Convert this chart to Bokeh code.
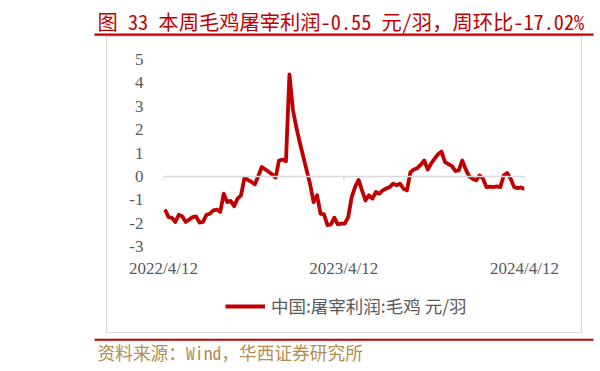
import pandas as pd
from bokeh.plotting import figure
from bokeh.layouts import column, row
from bokeh.models import (Range1d, FixedTicker, Span, Legend, LegendItem, Label,
                          BoxAnnotation, ColumnDataSource, Spacer)
from bokeh.embed import file_html
from bokeh.resources import INLINE

# ---------------- data ----------------
title_text = "图 33 本周毛鸡屠宰利润-0.55 元/羽，周环比-17.02%"
source_text = "资料来源：Wind，华西证券研究所"
series_name = "中国:屠宰利润:毛鸡 元/羽"
last_date = "2024-04-12"
n_weeks = 105
profit = [
    -1.42, -1.74, -1.77, -1.95, -1.64, -1.71, -1.95, -1.85, -1.74, -1.71,
    -1.98, -1.95, -1.64, -1.60, -1.45, -1.42, -1.52, -0.74, -1.10, -1.05,
    -1.28, -0.95, -0.81, -0.06, -0.15, -0.24, -0.34, 0.02, 0.40, 0.30,
    0.20, 0.08, -0.05, 0.68, 0.72, 0.65, 4.36, 2.85, 2.10, 1.45,
    0.85, 0.25, -0.35, -1.10, -0.81, -1.60, -1.62, -2.09, -2.05, -1.77,
    -2.05, -2.02, -2.02, -1.74, -0.90, -0.45, -0.15, -0.60, -1.03, -0.81,
    -0.95, -0.67, -0.74, -0.60, -0.52, -0.46, -0.31, -0.38, -0.31, -0.53,
    -0.60, 0.18, 0.29, 0.35, 0.50, 0.68, 0.29, 0.55, 0.76, 0.95,
    1.06, 0.61, 0.52, 0.45, 0.23, 0.26, 0.68, 0.30, 0.00, -0.10,
    -0.17, 0.04, -0.10, -0.46, -0.44, -0.46, -0.43, -0.46, 0.04, 0.14,
    -0.10, -0.46, -0.50, -0.47, -0.55,
]
tick_dates = ["2022-04-12", "2023-04-12", "2024-04-12"]
tick_labels = ["2022/4/12", "2023/4/12", "2024/4/12"]
y_ticks = [-3, -2, -1, 0, 1, 2, 3, 4, 5]
y_tick_labels = ["-3", "-2", "-1", "0", "1", "2", "3", "4", "5"]

# ---------------- derived ----------------
origin = pd.Timestamp(tick_dates[0])
dates = pd.date_range(end=last_date, periods=n_weeks, freq="7D")
x_days = [(d - origin).days for d in dates]
tick_pos = [(pd.Timestamp(t) - origin).days for t in tick_dates]

RED = "#C00000"
GRAY_TXT = "#595959"
BOX = "#D9D9D9"
SERIF = "Liberation Serif"
CJK = "Noto Sans CJK SC"
CJK_MONO = "'Noto Sans Mono CJK SC', 'Noto Sans CJK SC'"


def blank(w, h, xr=None, yr=None):
    f = figure(width=w, height=h,
               x_range=xr if xr is not None else Range1d(0, w),
               y_range=yr if yr is not None else Range1d(0, h),
               output_backend="svg", toolbar_location=None, title=None,
               x_axis_location=None, y_axis_location=None,
               min_border=0, min_border_left=0, min_border_right=0,
               min_border_top=0, min_border_bottom=0, frame_align=False)
    f.grid.visible = False
    f.outline_line_color = None
    f.background_fill_alpha = 0
    f.border_fill_alpha = 0
    return f


# ---------------- header ----------------
hdr = blank(600, 36)
hdr.add_layout(Label(x=97, y=15.5, text=title_text, text_font=CJK_MONO,
                     text_font_size="20.3px", text_color=RED, text_baseline="middle"))
hdr.add_layout(BoxAnnotation(left=94, right=593, bottom=0.8, top=3.0,
                             fill_color=RED, fill_alpha=1, line_color=None))

# ---------------- main chart ----------------
src = ColumnDataSource(dict(x=x_days, y=profit))

p = figure(frame_width=361, frame_height=187,
           x_range=Range1d(tick_pos[0], tick_pos[-1]), y_range=Range1d(-3, 5),
           output_backend="svg", toolbar_location=None, title=None, frame_align=False,
           min_border_left=57, min_border_right=58, min_border_top=23, min_border_bottom=39)
p.grid.visible = False
p.outline_line_color = None
p.background_fill_alpha = 0
p.border_fill_alpha = 0

p.add_layout(Span(location=0, dimension="width", line_color=BOX, line_width=1.5))
p.segment(x0=tick_pos, y0=[0] * len(tick_pos), x1=tick_pos, y1=[-0.17] * len(tick_pos),
          line_color=BOX, line_width=1.5)

r = p.line("x", "y", source=src, line_color=RED, line_width=3.8, line_join="round")

p.xaxis.ticker = FixedTicker(ticks=tick_pos)
p.xaxis.major_label_overrides = {tp: lab for tp, lab in zip(tick_pos, tick_labels)}
p.yaxis.ticker = FixedTicker(ticks=y_ticks)
p.yaxis.major_label_overrides = {t: lab for t, lab in zip(y_ticks, y_tick_labels)}
for ax in (p.xaxis[0], p.yaxis[0]):
    ax.axis_line_color = None
    ax.major_tick_line_color = None
    ax.minor_tick_line_color = None
    ax.major_tick_out = 0
    ax.major_tick_in = 0
    ax.minor_tick_out = 0
    ax.major_label_text_font = SERIF
    ax.major_label_text_font_size = "17px"
    ax.major_label_text_color = GRAY_TXT
p.yaxis.major_label_standoff = 20
p.xaxis.major_label_standoff = 12

# ---------------- legend strip (inside the same grey box) ----------------
# the key renderer shares the series' source; this strip's ranges keep the
# series itself out of view so only the legend entry is seen
leg = blank(476, 48, xr=Range1d(0, 476), yr=Range1d(100, 148))
key = leg.line("x", "y", source=src, line_color=RED, line_width=3.8)
leg.add_layout(Legend(items=[LegendItem(label=series_name, renderers=[key])],
                      orientation="horizontal", location=(119, 15),
                      label_text_font=CJK, label_text_font_size="17.5px",
                      label_text_color=GRAY_TXT, glyph_width=40, glyph_height=20,
                      label_height=20, label_standoff=6,
                      border_line_color=None, background_fill_alpha=0,
                      margin=0, padding=0))

box = column(p, leg, spacing=0,
             styles={"outline": "1px solid #D9D9D9", "outline-offset": "-1px"})

# ---------------- footer ----------------
ftr = blank(600, 38)
ftr.add_layout(BoxAnnotation(left=94, right=593, bottom=30.7, top=32.8,
                             fill_color=RED, fill_alpha=1, line_color=None))
ftr.add_layout(Label(x=97, y=19.5, text=source_text, text_font=CJK_MONO,
                     text_font_size="17.7px", text_color="#B48C50", text_baseline="middle"))

layout = column(hdr, row(Spacer(width=106, height=297), box, spacing=0), ftr, spacing=0)
open("out.html", "w").write(file_html(layout, INLINE))
